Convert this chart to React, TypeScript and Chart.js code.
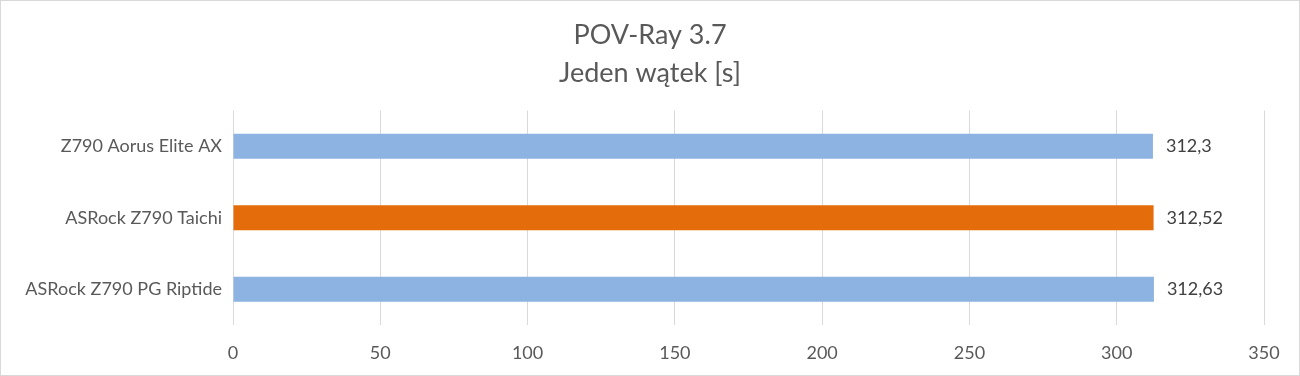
import React, { useEffect, useRef } from "react";
import { Chart, registerables } from "chart.js";

Chart.register(...registerables);

const titleLines = ["POV-Ray 3.7", "Jeden wątek [s]"];
const categories = ["Z790 Aorus Elite AX", "ASRock Z790 Taichi", "ASRock Z790 PG Riptide"];
const values = [312.3, 312.52, 312.63];
const valueLabels = ["312,3", "312,52", "312,63"];
const barColors = ["#8db3e2", "#e46c0a", "#8db3e2"];
const xMin = 0;
const xMax = 350;
const xStep = 50;

const FONT = "Lato, 'Open Sans', sans-serif";

const borderPlugin = {
  id: "outerBorder",
  beforeDraw(chart: any) {
    const { ctx, width, height } = chart;
    ctx.save();
    ctx.fillStyle = "#ffffff";
    ctx.fillRect(0, 0, width, height);
    ctx.strokeStyle = "#d9d9d9";
    ctx.lineWidth = 1;
    ctx.strokeRect(0.5, 0.5, width - 1, height - 1);
    ctx.restore();
  },
};

const valueLabelPlugin = {
  id: "valueLabels",
  afterDatasetsDraw(chart: any) {
    const { ctx } = chart;
    const meta = chart.getDatasetMeta(0);
    ctx.save();
    ctx.fillStyle = "#404040";
    ctx.font = `18px ${FONT}`;
    ctx.textAlign = "left";
    ctx.textBaseline = "middle";
    meta.data.forEach((bar: any, i: number) => {
      ctx.fillText(valueLabels[i], bar.x + 13, bar.y);
    });
    ctx.restore();
  },
};

export default function App() {
  const ref = useRef<HTMLCanvasElement>(null);
  useEffect(() => {
    document.body.style.margin = "0";
    const chart = new Chart(ref.current!, {
      type: "bar",
      data: {
        labels: categories,
        datasets: [
          {
            data: values,
            backgroundColor: barColors,
            barPercentage: 0.7,
            categoryPercentage: 0.5,
          },
        ],
      },
      options: {
        indexAxis: "y",
        animation: false,
        responsive: false,
        maintainAspectRatio: false,
        layout: { padding: { left: 0, right: 0, top: 0, bottom: 0 } },
        plugins: {
          legend: { display: false },
          tooltip: { enabled: false },
          title: {
            display: true,
            text: titleLines,
            color: "#595959",
            font: { family: FONT, size: 27, weight: "normal", lineHeight: 1.38 },
            padding: { top: 17, bottom: 19 },
          },
        },
        scales: {
          x: {
            min: xMin,
            max: xMax,
            ticks: {
              stepSize: xStep,
              color: "#595959",
              font: { family: FONT, size: 18 },
              padding: 17,
            },
            grid: { color: "#d9d9d9", drawTicks: false },
            border: { display: false },
            afterFit(scale: any) {
              scale.height = 51;
            },
          },
          y: {
            ticks: {
              color: "#595959",
              font: { family: FONT, size: 18 },
              padding: 11,
            },
            grid: { display: false, drawTicks: false },
            border: { display: false },
            afterFit(scale: any) {
              scale.width = 233;
            },
          },
          yRight: {
            type: "linear",
            axis: "y",
            position: "right",
            display: true,
            ticks: { display: false },
            grid: { display: false, drawTicks: false },
            border: { display: false },
            afterFit(scale: any) {
              scale.width = 36;
            },
          },
        },
      },
      plugins: [borderPlugin, valueLabelPlugin],
    } as any);
    return () => chart.destroy();
  }, []);
  return (
    <div style={{ width: 1300, height: 376 }}>
      <canvas ref={ref} width={1300} height={376} style={{ display: "block" }} />
    </div>
  );
}
